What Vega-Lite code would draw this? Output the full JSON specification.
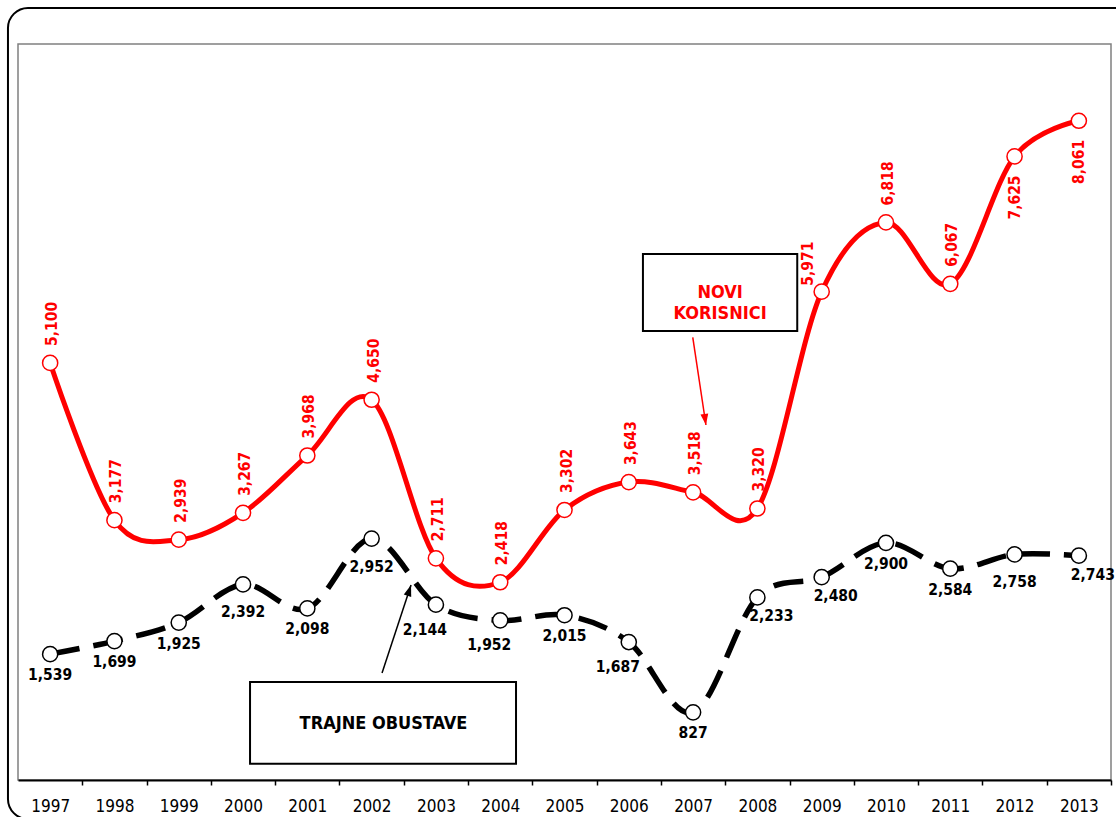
{
  "$schema": "https://vega.github.io/schema/vega-lite/v6.json",
  "width": 1093,
  "height": 736,
  "autosize": {"type": "none"},
  "padding": {"left": 18, "top": 44, "right": 5, "bottom": 37},
  "background": "white",
  "config": {
    "view": {"stroke": "#808080", "strokeWidth": 1.5},
    "axis": {"grid": false},
    "text": {"font": "DejaVu Sans Condensed, DejaVu Sans"}
  },
  "datasets": {
    "main": [
      {"year": 1997, "novi": 5100, "trajne": 1539},
      {"year": 1998, "novi": 3177, "trajne": 1699},
      {"year": 1999, "novi": 2939, "trajne": 1925},
      {"year": 2000, "novi": 3267, "trajne": 2392},
      {"year": 2001, "novi": 3968, "trajne": 2098},
      {"year": 2002, "novi": 4650, "trajne": 2952},
      {"year": 2003, "novi": 2711, "trajne": 2144},
      {"year": 2004, "novi": 2418, "trajne": 1952},
      {"year": 2005, "novi": 3302, "trajne": 2015},
      {"year": 2006, "novi": 3643, "trajne": 1687},
      {"year": 2007, "novi": 3518, "trajne": 827},
      {"year": 2008, "novi": 3320, "trajne": 2233},
      {"year": 2009, "novi": 5971, "trajne": 2480},
      {"year": 2010, "novi": 6818, "trajne": 2900},
      {"year": 2011, "novi": 6067, "trajne": 2584},
      {"year": 2012, "novi": 7625, "trajne": 2758},
      {"year": 2013, "novi": 8061, "trajne": 2743}
    ],
    "frame": [{"x1": 1996.344, "x2": 2013.9, "y1": -477, "y2": 9440}],
    "boxes": [
      {"name": "novi", "label": "NOVI\nKORISNICI", "x1": 2006.22, "x2": 2008.62, "y1": 5490, "y2": 6432, "tx": 2007.42, "ty": 5961},
      {"name": "trajne", "label": "TRAJNE OBUSTAVE", "x1": 2000.109, "x2": 2004.246, "y1": 200, "y2": 1198, "tx": 2002.185, "ty": 685}
    ],
    "arrows": [
      {"name": "novi", "x1": 2006.995, "y1": 5413, "x2": 2007.2, "y2": 4341},
      {"name": "trajne", "x1": 2002.162, "y1": 1308, "x2": 2002.613, "y2": 2384}
    ]
  },
  "layer": [
    {
      "data": {"name": "frame"},
      "mark": {"type": "rect", "fillOpacity": 0, "stroke": "#000000", "strokeWidth": 2, "cornerRadius": 20},
      "encoding": {
        "x": {"field": "x1", "type": "quantitative",
          "scale": {"domain": [1996.5, 2013.5], "nice": false, "zero": false},
          "axis": {
            "values": [1997, 1998, 1999, 2000, 2001, 2002, 2003, 2004, 2005, 2006, 2007, 2008, 2009, 2010, 2011, 2012, 2013],
            "format": "d", "title": null,
            "domainColor": "#000000", "domainWidth": 2,
            "tickColor": "#000000", "tickWidth": 1.5, "tickSize": 5, "tickOffset": 32.15, "labelOffset": -32.15,
            "labelFont": "DejaVu Sans Condensed, DejaVu Sans", "labelFontSize": 17, "labelColor": "#000000",
            "labelPadding": 13, "labelFlush": false, "labelOverlap": false
          }},
        "x2": {"field": "x2"},
        "y": {"field": "y1", "type": "quantitative", "scale": {"domain": [0, 9000], "nice": false, "zero": true}, "axis": null},
        "y2": {"field": "y2"}
      }
    },
    {
      "data": {"name": "main"},
      "mark": {"type": "line", "interpolate": "cardinal", "color": "#ff0000", "strokeWidth": 5},
      "encoding": {
        "x": {"field": "year", "type": "quantitative"},
        "y": {"field": "novi", "type": "quantitative"}
      }
    },
    {
      "data": {"name": "main"},
      "mark": {"type": "line", "interpolate": "cardinal", "color": "#000000", "strokeWidth": 5.5, "strokeDash": [30, 14], "strokeCap": "butt"},
      "encoding": {
        "x": {"field": "year", "type": "quantitative"},
        "y": {"field": "trajne", "type": "quantitative"}
      }
    },
    {
      "data": {"name": "boxes"},
      "mark": {"type": "rect", "fill": "#ffffff", "stroke": "#000000", "strokeWidth": 2},
      "encoding": {
        "x": {"field": "x1", "type": "quantitative"},
        "x2": {"field": "x2"},
        "y": {"field": "y1", "type": "quantitative"},
        "y2": {"field": "y2"}
      }
    },
    {
      "data": {"name": "boxes"},
      "mark": {"type": "text", "fontWeight": "bold", "fontSize": 18, "lineBreak": "\n", "lineHeight": 21, "align": "center", "baseline": "middle"},
      "encoding": {
        "x": {"field": "tx", "type": "quantitative"},
        "y": {"field": "ty", "type": "quantitative"},
        "text": {"field": "label"},
        "color": {"field": "name", "type": "nominal", "scale": {"domain": ["novi", "trajne"], "range": ["#ff0000", "#000000"]}, "legend": null}
      }
    },
    {
      "data": {"name": "arrows"},
      "mark": {"type": "rule", "strokeWidth": 1.5},
      "encoding": {
        "x": {"field": "x1", "type": "quantitative"},
        "x2": {"field": "x2"},
        "y": {"field": "y1", "type": "quantitative"},
        "y2": {"field": "y2"},
        "color": {"field": "name", "type": "nominal", "legend": null}
      }
    },
    {
      "data": {"name": "arrows"},
      "transform": [{"filter": "datum.name === 'novi'"}],
      "mark": {"type": "point", "shape": "M0,0L-0.35,1L0.35,1Z", "size": 500, "filled": true, "opacity": 1, "angle": 171.8, "color": "#ff0000"},
      "encoding": {
        "x": {"field": "x2", "type": "quantitative"},
        "y": {"field": "y2", "type": "quantitative"}
      }
    },
    {
      "data": {"name": "arrows"},
      "transform": [{"filter": "datum.name === 'trajne'"}],
      "mark": {"type": "point", "shape": "M0,0L-0.35,1L0.35,1Z", "size": 500, "filled": true, "opacity": 1, "angle": 18.4, "color": "#000000"},
      "encoding": {
        "x": {"field": "x2", "type": "quantitative"},
        "y": {"field": "y2", "type": "quantitative"}
      }
    },
    {
      "data": {"name": "main"},
      "mark": {"type": "point", "shape": "circle", "size": 230, "filled": true, "fill": "#ffffff", "stroke": "#ff0000", "strokeWidth": 1.5, "opacity": 1},
      "encoding": {
        "x": {"field": "year", "type": "quantitative"},
        "y": {"field": "novi", "type": "quantitative"}
      }
    },
    {
      "data": {"name": "main"},
      "mark": {"type": "point", "shape": "circle", "size": 230, "filled": true, "fill": "#ffffff", "stroke": "#000000", "strokeWidth": 1.5, "opacity": 1},
      "encoding": {
        "x": {"field": "year", "type": "quantitative"},
        "y": {"field": "trajne", "type": "quantitative"}
      }
    },
    {
      "data": {"name": "main"},
      "transform": [{"filter": "datum.year <= 2011 && datum.year !== 2009"}],
      "mark": {"type": "text", "angle": 270, "align": "left", "baseline": "middle", "dx": 17, "dy": 2, "fontWeight": "bold", "fontSize": 15.5, "color": "#ff0000"},
      "encoding": {
        "x": {"field": "year", "type": "quantitative"},
        "y": {"field": "novi", "type": "quantitative"},
        "text": {"field": "novi", "type": "quantitative", "format": ",d"}
      }
    },
    {
      "data": {"name": "main"},
      "transform": [{"filter": "datum.year === 2009"}],
      "mark": {"type": "text", "angle": 270, "align": "left", "baseline": "middle", "dx": 6, "dy": -14, "fontWeight": "bold", "fontSize": 15.5, "color": "#ff0000"},
      "encoding": {
        "x": {"field": "year", "type": "quantitative"},
        "y": {"field": "novi", "type": "quantitative"},
        "text": {"field": "novi", "type": "quantitative", "format": ",d"}
      }
    },
    {
      "data": {"name": "main"},
      "transform": [{"filter": "datum.year >= 2012"}],
      "mark": {"type": "text", "angle": 270, "align": "right", "baseline": "middle", "dx": -19, "dy": 0, "fontWeight": "bold", "fontSize": 15.5, "color": "#ff0000"},
      "encoding": {
        "x": {"field": "year", "type": "quantitative"},
        "y": {"field": "novi", "type": "quantitative"},
        "text": {"field": "novi", "type": "quantitative", "format": ",d"}
      }
    },
    {
      "data": {"name": "main"},
      "transform": [{"filter": "indexof([1997, 1998, 1999, 2001, 2005, 2007, 2010, 2011], datum.year) >= 0"}],
      "mark": {"type": "text", "align": "center", "baseline": "top", "dy": 14, "fontWeight": "bold", "fontSize": 15.5, "color": "#000000"},
      "encoding": {
        "x": {"field": "year", "type": "quantitative"},
        "y": {"field": "trajne", "type": "quantitative"},
        "text": {"field": "trajne", "type": "quantitative", "format": ",d"}
      }
    },
    {
      "data": {"name": "main"},
      "transform": [{"filter": "indexof([2000, 2002, 2012], datum.year) >= 0"}],
      "mark": {"type": "text", "align": "center", "baseline": "top", "dy": 21, "fontWeight": "bold", "fontSize": 15.5, "color": "#000000"},
      "encoding": {
        "x": {"field": "year", "type": "quantitative"},
        "y": {"field": "trajne", "type": "quantitative"},
        "text": {"field": "trajne", "type": "quantitative", "format": ",d"}
      }
    },
    {
      "data": {"name": "main"},
      "transform": [{"filter": "indexof([2003, 2004, 2006], datum.year) >= 0"}],
      "mark": {"type": "text", "align": "center", "baseline": "top", "dx": -11, "dy": 18, "fontWeight": "bold", "fontSize": 15.5, "color": "#000000"},
      "encoding": {
        "x": {"field": "year", "type": "quantitative"},
        "y": {"field": "trajne", "type": "quantitative"},
        "text": {"field": "trajne", "type": "quantitative", "format": ",d"}
      }
    },
    {
      "data": {"name": "main"},
      "transform": [{"filter": "indexof([2008, 2009, 2013], datum.year) >= 0"}],
      "mark": {"type": "text", "align": "center", "baseline": "top", "dx": 14, "dy": 12, "fontWeight": "bold", "fontSize": 15.5, "color": "#000000"},
      "encoding": {
        "x": {"field": "year", "type": "quantitative"},
        "y": {"field": "trajne", "type": "quantitative"},
        "text": {"field": "trajne", "type": "quantitative", "format": ",d"}
      }
    }
  ]
}
